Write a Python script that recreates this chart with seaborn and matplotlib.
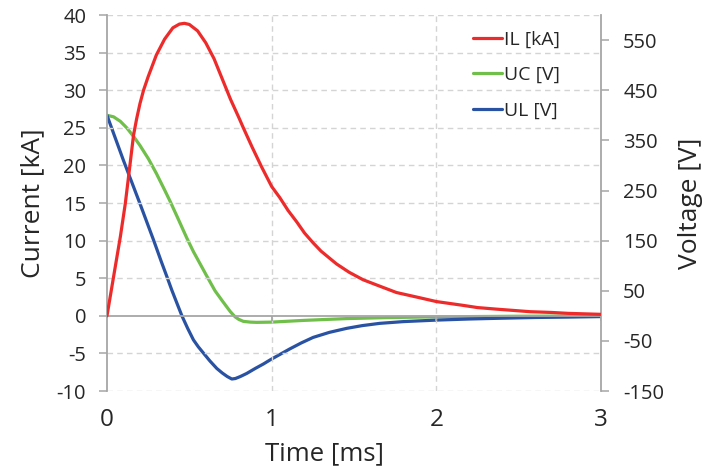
import matplotlib
matplotlib.use("Agg")
import matplotlib.pyplot as plt
import seaborn as sns
from matplotlib.lines import Line2D

# values
t_il = [0, 0.04, 0.081, 0.111, 0.137, 0.161, 0.18, 0.2, 0.222, 0.25, 0.3, 0.35, 0.4, 0.44,
        0.47, 0.5, 0.55, 0.6, 0.65, 0.7, 0.75, 0.8, 0.828, 0.88, 0.939, 1.0, 1.05, 1.1,
        1.152, 1.2, 1.252, 1.3, 1.394, 1.47, 1.555, 1.65, 1.758, 1.88, 2.0, 2.16, 2.25,
        2.36, 2.57, 2.7, 2.8, 3.0]
il_ka = [0, 5.2, 10.5, 14.9, 19.6, 24.0, 26.2, 28.2, 30.0, 31.8, 34.7, 36.8, 38.3, 38.8,
         38.9, 38.75, 37.9, 36.3, 34.2, 31.5, 28.8, 26.4, 25.0, 22.5, 19.8, 17.2, 15.7, 14.0,
         12.5, 11.0, 9.7, 8.6, 6.9, 5.8, 4.8, 4.0, 3.1, 2.5, 1.9, 1.4, 1.1,
         0.9, 0.55, 0.45, 0.33, 0.2]

t_uc = [0, 0.04, 0.081, 0.12, 0.161, 0.2, 0.252, 0.3, 0.35, 0.384, 0.43, 0.485, 0.525,
        0.565, 0.61, 0.656, 0.7, 0.727, 0.75, 0.778, 0.8, 0.828, 0.87, 0.909, 1.0, 1.2,
        1.455, 1.7, 2.0, 2.5, 3.0]
uc_v = [400, 397, 388, 375, 358, 340, 313, 284, 251, 228, 195, 155, 128,
        104, 77, 50, 30, 18, 8, -2, -7, -11, -12.5, -13, -12.5, -9,
        -5.5, -3.5, -2, -0.8, 0]

t_ul = [0, 0.05, 0.1, 0.15, 0.2, 0.25, 0.283, 0.33, 0.364, 0.394, 0.425, 0.455, 0.49,
        0.525, 0.555, 0.585, 0.625, 0.667, 0.7, 0.73, 0.758, 0.78, 0.81, 0.848, 0.9, 0.95,
        0.99, 1.05, 1.11, 1.18, 1.252, 1.35, 1.455, 1.55, 1.656, 1.8, 2.0, 2.2, 2.36, 2.6,
        2.8, 3.0]
ul_v = [400, 355, 310, 267, 224, 180, 151, 108, 78, 51, 25, 0, -25,
        -48, -62, -74, -90, -105, -114, -121, -126, -125, -121, -115, -105, -96,
        -88, -77, -66, -54, -43, -33, -25, -19.5, -15, -11.5, -8.5, -6.3, -5, -3.3,
        -2.5, -1.5]

labels = ['IL [kA]', 'UC [V]', 'UL [V]']
colors = ['#ee2b2b', '#6fbf4a', '#2a52a3']
x_ticks = [0, 1, 2, 3]
cur_ticks = list(range(-10, 41, 5))
volt_ticks = list(range(-150, 551, 100))

sns.set_style("white")
plt.rcParams['font.family'] = ['Open Sans', 'DejaVu Sans']
plt.rcParams['axes.unicode_minus'] = False

fig = plt.figure(figsize=(7.09, 4.70), dpi=100)
ax = fig.add_axes([0.1509, 0.168, 0.6968, 0.8])
ax2 = ax.twinx()

grid = '#d4d4d4'
axis_grey = '#a6a6a6'
for y in cur_ticks:
    if y != 0:
        ax.axhline(y, color=grid, lw=1, ls=(0, (4, 3)), zorder=0)
for x in x_ticks[1:-1]:
    ax.axvline(x, color=grid, lw=1, ls=(0, (4, 3)), zorder=0)
ax.axhline(0, color=axis_grey, lw=1.3, zorder=1)
ax.vlines(x_ticks[1:], -0.7, 0, color=axis_grey, lw=1.3, zorder=1)

lw = 2.3
sns.lineplot(x=t_il, y=il_ka, ax=ax, color=colors[0], lw=lw, zorder=3)
sns.lineplot(x=t_uc, y=uc_v, ax=ax2, color=colors[1], lw=lw, zorder=3)
sns.lineplot(x=t_ul, y=ul_v, ax=ax2, color=colors[2], lw=lw, zorder=3)

ax.set_xlim(0, 3)
ax.set_ylim(-10, 40)
ax2.set_ylim(-150, 600)
ax.set_xticks(x_ticks)
ax.set_yticks(cur_ticks)
ax2.set_yticks(volt_ticks)

ax.tick_params(axis='x', length=0, labelsize=17.5, pad=12)
ax.tick_params(axis='y', length=6, width=1.1, color=axis_grey, labelsize=14.5, pad=9)
ax2.tick_params(axis='y', length=6, width=1.1, color=axis_grey, labelsize=14.5, pad=10)
for a in (ax, ax2):
    for s in ('top', 'bottom'):
        a.spines[s].set_visible(False)
    a.spines['left'].set_color(axis_grey)
    a.spines['right'].set_color(axis_grey)
    a.spines['left'].set_linewidth(1.3)
    a.spines['right'].set_linewidth(1.3)
ax2.spines['left'].set_visible(False)
ax.spines['right'].set_visible(False)

ax.set_xlabel('Time [ms]', fontsize=18.5)
ax.xaxis.set_label_coords(0.44, -0.133)
ax.set_ylabel('Current [kA]', fontsize=19, labelpad=8)
ax2.set_ylabel('Voltage [V]', fontsize=19, labelpad=10)
ax.set_zorder(ax2.get_zorder() + 1)
ax.patch.set_visible(False)

handles = [Line2D([], [], color=c, lw=lw) for c in colors]
fig.legend(handles, labels, loc='upper left', bbox_to_anchor=(0.643, 0.972),
           frameon=False, fontsize=14, handlelength=1.45, handletextpad=0.15,
           labelspacing=0.9)

fig.savefig('out.png', dpi=100)
